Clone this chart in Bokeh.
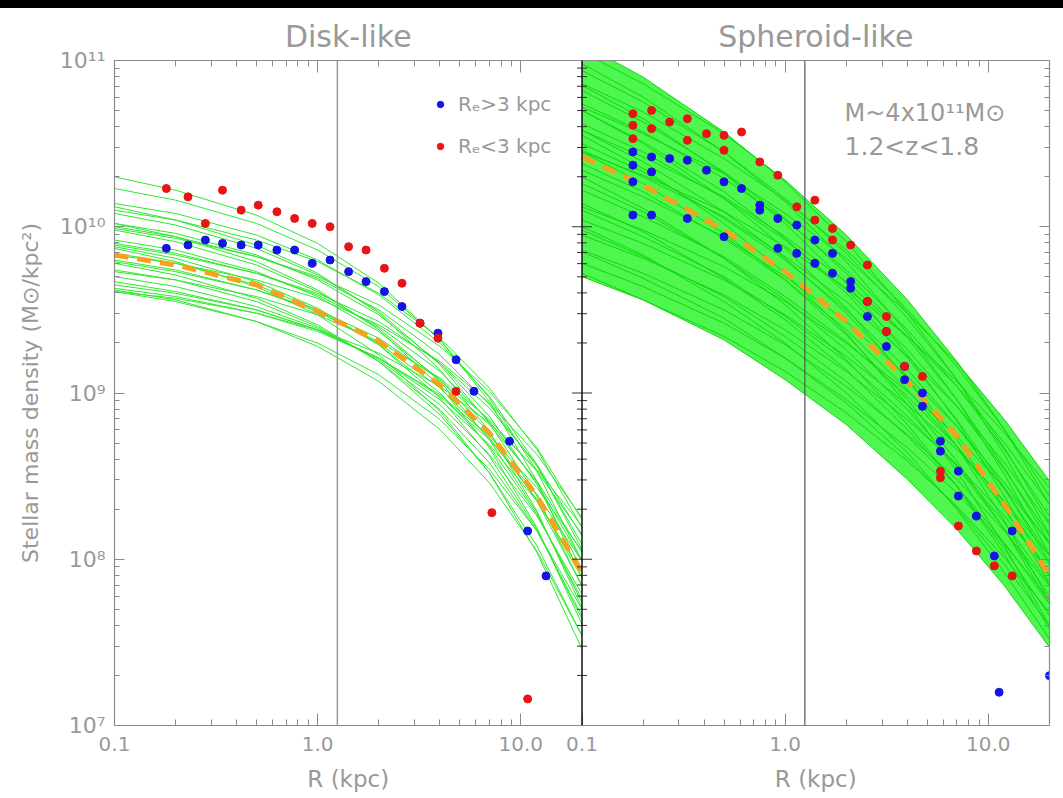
import numpy as np
from bokeh.plotting import figure
from bokeh.models import (LogAxis, FixedTicker, Span, Label, Legend, LegendItem,
                          Range1d, LogScale, Div)
from bokeh.layouts import column
from bokeh.embed import file_html
from bokeh.resources import INLINE

# ---------------- data ----------------
R_GRID = [0.1, 0.2, 0.5, 1, 2, 4, 7, 12, 20]          # kpc

# log10 stellar mass density of the model profiles, at R_GRID
DISK_CURVES = [
    [9.63, 9.58, 9.48, 9.37, 9.21, 8.99, 8.74, 8.43, 8.05],
    [9.73, 9.68, 9.58, 9.47, 9.31, 9.09, 8.84, 8.53, 8.15],
    [9.83, 9.78, 9.68, 9.57, 9.41, 9.19, 8.94, 8.63, 8.25],
    [9.67, 9.61, 9.50, 9.38, 9.21, 8.96, 8.69, 8.35, 7.92],
    [9.79, 9.73, 9.62, 9.50, 9.33, 9.08, 8.81, 8.47, 8.04],
    [9.89, 9.83, 9.72, 9.60, 9.43, 9.18, 8.91, 8.57, 8.14],
    [9.99, 9.93, 9.82, 9.70, 9.53, 9.28, 9.01, 8.67, 8.24],
    [9.70, 9.64, 9.52, 9.39, 9.20, 8.93, 8.63, 8.26, 7.79],
    [9.80, 9.74, 9.62, 9.49, 9.30, 9.03, 8.73, 8.36, 7.89],
    [9.90, 9.84, 9.72, 9.59, 9.40, 9.13, 8.83, 8.46, 7.99],
    [10.00, 9.94, 9.82, 9.69, 9.50, 9.23, 8.93, 8.56, 8.09],
    [10.10, 10.04, 9.92, 9.79, 9.60, 9.33, 9.03, 8.66, 8.19],
    [9.74, 9.68, 9.55, 9.40, 9.19, 8.90, 8.58, 8.17, 7.66],
    [9.84, 9.78, 9.65, 9.50, 9.29, 9.00, 8.68, 8.27, 7.76],
    [9.92, 9.86, 9.73, 9.58, 9.37, 9.08, 8.76, 8.35, 7.84],
    [10.02, 9.96, 9.83, 9.68, 9.47, 9.18, 8.86, 8.45, 7.94],
    [10.14, 10.08, 9.95, 9.80, 9.59, 9.30, 8.98, 8.57, 8.06],
    [9.78, 9.71, 9.57, 9.41, 9.19, 8.87, 8.52, 8.08, 7.54],
    [9.88, 9.81, 9.67, 9.51, 9.29, 8.97, 8.62, 8.18, 7.64],
    [9.98, 9.91, 9.77, 9.61, 9.39, 9.07, 8.72, 8.28, 7.74],
    [10.08, 10.01, 9.87, 9.71, 9.49, 9.17, 8.82, 8.38, 7.84],
    [10.23, 10.16, 10.02, 9.86, 9.64, 9.32, 8.97, 8.53, 7.99],
    [9.87, 9.79, 9.64, 9.47, 9.23, 8.89, 8.52, 8.04, 7.46],
    [10.02, 9.94, 9.79, 9.62, 9.38, 9.04, 8.67, 8.19, 7.61],
    [10.12, 10.04, 9.89, 9.72, 9.48, 9.14, 8.77, 8.29, 7.71],
    [10.30, 10.22, 10.07, 9.90, 9.66, 9.32, 8.95, 8.47, 7.89],
    [9.61, 9.57, 9.48, 9.38, 9.24, 9.04, 8.82, 8.54, 8.20],
    [9.65, 9.60, 9.50, 9.38, 9.21, 8.98, 8.72, 8.39, 7.99],
    [9.62, 9.56, 9.43, 9.28, 9.07, 8.78, 8.46, 8.05, 7.54],
    [9.61, 9.55, 9.43, 9.30, 9.11, 8.84, 8.54, 8.17, 7.70],
]
DISK_MEDIAN = [9.83, 9.77, 9.65, 9.49, 9.31, 9.05, 8.76, 8.38, 7.92]

SPH_CURVES = [
    [9.70, 9.56, 9.34, 9.13, 8.88, 8.59, 8.32, 8.01, 7.68],
    [9.78, 9.64, 9.42, 9.21, 8.96, 8.67, 8.40, 8.09, 7.76],
    [9.86, 9.72, 9.50, 9.29, 9.04, 8.75, 8.48, 8.17, 7.84],
    [9.95, 9.81, 9.59, 9.38, 9.13, 8.84, 8.57, 8.26, 7.93],
    [10.04, 9.90, 9.68, 9.47, 9.22, 8.93, 8.66, 8.35, 8.02],
    [10.12, 9.98, 9.76, 9.55, 9.30, 9.01, 8.74, 8.43, 8.10],
    [10.45, 10.31, 10.09, 9.88, 9.63, 9.34, 9.07, 8.76, 8.43],
    [9.72, 9.56, 9.32, 9.08, 8.81, 8.48, 8.18, 7.84, 7.47],
    [9.85, 9.69, 9.45, 9.21, 8.94, 8.61, 8.31, 7.97, 7.60],
    [9.98, 9.82, 9.58, 9.34, 9.07, 8.74, 8.44, 8.10, 7.73],
    [10.10, 9.94, 9.70, 9.46, 9.19, 8.86, 8.56, 8.22, 7.85],
    [10.22, 10.06, 9.82, 9.58, 9.31, 8.98, 8.68, 8.34, 7.97],
    [10.34, 10.18, 9.94, 9.70, 9.43, 9.10, 8.80, 8.46, 8.09],
    [10.46, 10.30, 10.06, 9.82, 9.55, 9.22, 8.92, 8.58, 8.21],
    [10.58, 10.42, 10.18, 9.94, 9.67, 9.34, 9.04, 8.70, 8.33],
    [10.72, 10.56, 10.32, 10.08, 9.81, 9.48, 9.18, 8.84, 8.47],
    [10.00, 9.83, 9.55, 9.30, 9.00, 8.64, 8.30, 7.92, 7.52],
    [10.14, 9.97, 9.69, 9.44, 9.14, 8.78, 8.44, 8.06, 7.66],
    [10.26, 10.09, 9.81, 9.56, 9.26, 8.90, 8.56, 8.18, 7.78],
    [10.38, 10.21, 9.93, 9.68, 9.38, 9.02, 8.68, 8.30, 7.90],
    [10.50, 10.33, 10.05, 9.80, 9.50, 9.14, 8.80, 8.42, 8.02],
    [10.62, 10.45, 10.17, 9.92, 9.62, 9.26, 8.92, 8.54, 8.14],
    [10.74, 10.57, 10.29, 10.04, 9.74, 9.38, 9.04, 8.66, 8.26],
    [10.86, 10.69, 10.41, 10.16, 9.86, 9.50, 9.16, 8.78, 8.38],
    [10.30, 10.11, 9.81, 9.53, 9.20, 8.81, 8.44, 8.03, 7.58],
    [10.45, 10.26, 9.96, 9.68, 9.35, 8.96, 8.59, 8.18, 7.73],
    [10.58, 10.39, 10.09, 9.81, 9.48, 9.09, 8.72, 8.31, 7.86],
    [10.70, 10.51, 10.21, 9.93, 9.60, 9.21, 8.84, 8.43, 7.98],
    [10.82, 10.63, 10.33, 10.05, 9.72, 9.33, 8.96, 8.55, 8.10],
    [10.94, 10.75, 10.45, 10.17, 9.84, 9.45, 9.08, 8.67, 8.22],
    [11.05, 10.86, 10.56, 10.28, 9.95, 9.56, 9.19, 8.78, 8.33],
    [10.55, 10.35, 10.02, 9.72, 9.36, 8.93, 8.53, 8.08, 7.60],
    [10.70, 10.50, 10.17, 9.87, 9.51, 9.08, 8.68, 8.23, 7.75],
    [10.85, 10.65, 10.32, 10.02, 9.66, 9.23, 8.83, 8.38, 7.90],
    [10.98, 10.78, 10.45, 10.15, 9.79, 9.36, 8.96, 8.51, 8.03],
    [11.10, 10.90, 10.57, 10.27, 9.91, 9.48, 9.08, 8.63, 8.15],
]
SPH_MEDIAN = [10.42, 10.25, 9.98, 9.73, 9.43, 9.07, 8.74, 8.33, 7.90]

# observed profiles (R in kpc, log10 density)
DISK_BLUE_R = [0.18, 0.23, 0.28, 0.34, 0.42, 0.51, 0.63, 0.77, 0.94, 1.15, 1.42,
               1.73, 2.13, 2.60, 3.19, 3.91, 4.80, 5.88, 8.8, 10.8, 13.3]
DISK_BLUE_L = [9.87, 9.89, 9.92, 9.90, 9.89, 9.89, 9.86, 9.86, 9.78, 9.80, 9.73,
               9.67, 9.61, 9.52, 9.42, 9.36, 9.20, 9.01, 8.71, 8.17, 7.90]
DISK_RED_R = [0.18, 0.23, 0.28, 0.34, 0.42, 0.51, 0.63, 0.77, 0.94, 1.15, 1.42,
              1.73, 2.13, 2.60, 3.19, 3.91, 4.80, 7.2, 10.8]
DISK_RED_L = [10.23, 10.18, 10.02, 10.22, 10.10, 10.13, 10.09, 10.05, 10.02, 10.00, 9.88,
              9.86, 9.75, 9.66, 9.42, 9.33, 9.01, 8.28, 7.16]

SPH_BLUE_R = [0.178, 0.178, 0.178, 0.178, 0.22, 0.22, 0.22, 0.27, 0.33, 0.33, 0.41,
              0.50, 0.50, 0.61, 0.75, 0.75, 0.92, 0.92, 1.14, 1.14, 1.40, 1.40,
              1.71, 1.71, 2.10, 2.10, 2.54, 2.54, 3.15, 3.15, 3.87, 3.87, 4.74, 4.74,
              5.81, 5.81, 7.12, 7.12, 8.73, 10.7, 13.1, 11.3, 20.0]
SPH_BLUE_L = [10.45, 10.37, 10.27, 10.07, 10.42, 10.33, 10.07, 10.41, 10.40, 10.05, 10.34,
              10.27, 9.94, 10.23, 10.13, 10.10, 10.05, 9.87, 10.01, 9.84, 9.92, 9.78,
              9.84, 9.72, 9.67, 9.63, 9.55, 9.46, 9.37, 9.28, 9.16, 9.08, 9.00, 8.92,
              8.71, 8.65, 8.53, 8.38, 8.26, 8.02, 8.17, 7.20, 7.30]
SPH_RED_R = [0.178, 0.178, 0.178, 0.22, 0.22, 0.27, 0.33, 0.33, 0.41, 0.50, 0.50,
             0.61, 0.75, 0.92, 1.14, 1.40, 1.40, 1.71, 1.71, 2.10, 2.54, 2.54,
             3.15, 3.15, 3.87, 4.74, 5.81, 5.81, 7.12, 8.73, 10.7, 13.1]
SPH_RED_L = [10.68, 10.61, 10.53, 10.70, 10.59, 10.63, 10.65, 10.52, 10.56, 10.55, 10.46,
             10.57, 10.39, 10.31, 10.12, 10.16, 10.04, 9.99, 9.92, 9.89, 9.77, 9.55,
             9.46, 9.37, 9.16, 9.10, 8.53, 8.49, 8.20, 8.05, 7.96, 7.90]

R_MARK = 1.25          # vertical reference line (kpc)
R_MIN, R_MAX = 0.1, 20.0
X_TICKS = [0.1, 1.0, 10.0]
X_TICK_LABELS = ["0.1", "1.0", "10.0"]
Y_TICKS = [1e7, 1e8, 1e9, 1e10, 1e11]
Y_TICK_LABELS = ["10⁷", "10⁸", "10⁹", "10¹⁰", "10¹¹"]
PANEL_TITLES = ["Disk-like", "Spheroid-like"]
X_TITLE = "R (kpc)"
Y_TITLE = "Stellar mass density (M\u2299/kpc\u00b2)"

# ---------------- styling ----------------
AXIS_GRAY = "#8a8a8a"
TEXT_GRAY = "#999999"
FONT = "DejaVu Sans"
GREEN = "#2fe82f"
ORANGE = "#f7a11e"
BLUE = "#1414e6"
RED = "#e81414"
FRAME_W, FRAME_H = 935, 665

SHIFT = R_MAX / R_MIN   # right panel R maps to R*SHIFT on the shared axes

p = figure(frame_width=FRAME_W, frame_height=FRAME_H,
           x_axis_type="log", y_axis_type="log",
           x_range=Range1d(R_MIN, R_MIN * SHIFT * SHIFT),
           y_range=Range1d(Y_TICKS[0], Y_TICKS[-1]),
           min_border_left=114, min_border_right=14,
           min_border_top=52, min_border_bottom=73,
           output_backend="svg", toolbar_location=None,
           outline_line_color=None, background_fill_color="white")
p.extra_x_ranges = {"right": Range1d(R_MIN / SHIFT, R_MAX)}
p.extra_x_scales = {"right": LogScale()}
p.grid.visible = False

# x ticks for both panels on one shared axis
x_major = X_TICKS + [t * SHIFT for t in X_TICKS]
x_minor_base = [k * 10.0 ** e for e in (-1, 0) for k in range(2, 10)]
x_minor = x_minor_base + [t * SHIFT for t in x_minor_base]
x_over = {}
for t, lab in zip(X_TICKS, X_TICK_LABELS):
    x_over[t] = lab
    x_over[t * SHIFT] = lab
xticker = FixedTicker(ticks=x_major, minor_ticks=x_minor)

y_minor = [k * 10.0 ** e for e in range(7, 11) for k in range(2, 10)]
yticker = FixedTicker(ticks=Y_TICKS, minor_ticks=y_minor)

mid = (R_MIN * R_MAX) ** 0.5          # centre of each panel
centres = [mid, mid * SHIFT]
centre_ticker = FixedTicker(ticks=centres, minor_ticks=[])


def style_axis(ax, major_in, minor_in):
    ax.axis_line_color = AXIS_GRAY
    ax.axis_line_width = 1.2
    ax.major_tick_line_color = AXIS_GRAY
    ax.minor_tick_line_color = AXIS_GRAY
    ax.major_tick_in = major_in
    ax.major_tick_out = 0
    ax.minor_tick_in = minor_in
    ax.minor_tick_out = 0
    ax.major_label_text_color = TEXT_GRAY
    ax.major_label_text_font = FONT
    ax.axis_label_text_color = TEXT_GRAY
    ax.axis_label_text_font = FONT
    ax.axis_label_text_font_style = "normal"


def text_axis(labels, size, standoff):
    """An axis with no line or ticks: it only carries a text under each panel centre."""
    ax = LogAxis(ticker=centre_ticker,
                 major_label_overrides=dict(zip(centres, labels)),
                 axis_line_color=None, major_tick_line_color=None,
                 minor_tick_line_color=None, major_tick_in=0, major_tick_out=0,
                 minor_tick_in=0, minor_tick_out=0,
                 major_label_standoff=standoff, major_label_text_font=FONT,
                 major_label_text_font_size=size, major_label_text_color=TEXT_GRAY)
    return ax


bx = p.xaxis[0]
bx.ticker = xticker
bx.major_label_overrides = x_over
bx.major_label_text_font_size = "20px"
bx.major_label_standoff = 11
style_axis(bx, 12, 6)

ly = p.yaxis[0]
ly.ticker = yticker
ly.major_label_overrides = dict(zip(Y_TICKS, Y_TICK_LABELS))
ly.major_label_text_font_size = "22px"
ly.major_label_standoff = 9
ly.axis_label = Y_TITLE
ly.axis_label_text_font_size = "22px"
ly.axis_label_standoff = 14
style_axis(ly, 10, 5)

top = LogAxis(ticker=xticker, major_label_overrides={t: "" for t in x_major},
              major_label_standoff=0)
style_axis(top, 12, 6)
top.major_label_text_font_size = "1px"
p.add_layout(top, "above")
p.add_layout(text_axis(PANEL_TITLES, "30px", 7), "above")

p.add_layout(text_axis([X_TITLE, X_TITLE], "23px", 12), "below")

ry = LogAxis(ticker=yticker, major_label_overrides={t: "" for t in Y_TICKS},
             major_label_standoff=0)
style_axis(ry, 10, 5)
ry.major_label_text_font_size = "1px"
p.add_layout(ry, "right")

# ---------------- left panel: disk-like ----------------
p.multi_line(xs=[R_GRID] * len(DISK_CURVES),
             ys=[list(10.0 ** np.array(c)) for c in DISK_CURVES],
             line_color=GREEN, line_width=1)
p.line(R_GRID, 10.0 ** np.array(DISK_MEDIAN), line_color=ORANGE, line_width=5,
       line_dash="14 9")
rb = p.scatter(DISK_BLUE_R, 10.0 ** np.array(DISK_BLUE_L), size=8,
               fill_color=BLUE, line_color=BLUE)
rr = p.scatter(DISK_RED_R, 10.0 ** np.array(DISK_RED_L), size=8,
               fill_color=RED, line_color=RED)

# ---------------- right panel: spheroid-like ----------------
sph = 10.0 ** np.array(SPH_CURVES)
p.varea(x=R_GRID, y1=sph.min(axis=0), y2=sph.max(axis=0), fill_color="#3cf53c",
        fill_alpha=0.9, x_range_name="right")
p.multi_line(xs=[R_GRID] * len(SPH_CURVES), ys=[list(c) for c in sph],
             line_color="#10d810", line_width=1, x_range_name="right")
p.line(R_GRID, 10.0 ** np.array(SPH_MEDIAN), line_color=ORANGE, line_width=5,
       line_dash="14 9", x_range_name="right")
p.scatter(SPH_BLUE_R, 10.0 ** np.array(SPH_BLUE_L), size=8,
          fill_color=BLUE, line_color=BLUE, x_range_name="right")
p.scatter(SPH_RED_R, 10.0 ** np.array(SPH_RED_L), size=8,
          fill_color=RED, line_color=RED, x_range_name="right")

# reference lines
p.add_layout(Span(location=R_MARK, dimension="height", line_color="#9a9a9a",
                  line_width=1.5))
p.add_layout(Span(location=R_MARK, dimension="height", line_color="#555555",
                  line_width=1.2, x_range_name="right"))
p.add_layout(Span(location=R_MAX, dimension="height", line_color="#111111",
                  line_width=1.5))
# ticks on the shared middle boundary (both sides)
p.dash(x=[R_MAX] * len(Y_TICKS), y=Y_TICKS, size=20, line_color="#333333",
       line_width=1)
p.dash(x=[R_MAX] * len(y_minor), y=y_minor, size=10, line_color="#333333",
       line_width=1)

# legend
leg = Legend(items=[LegendItem(label="R\u2091>3 kpc", renderers=[rb]),
                    LegendItem(label="R\u2091<3 kpc", renderers=[rr])],
             location=(318, 567), glyph_width=16, glyph_height=20,
             label_height=20, spacing=18, padding=0, margin=0,
             label_standoff=10, label_text_font=FONT, label_text_font_size="20px",
             label_text_color=TEXT_GRAY, border_line_alpha=0, background_fill_alpha=0)
p.add_layout(leg)

p.add_layout(Label(x=1.96, y=10 ** (11 - 52 / 166), text="M~4x10¹¹M\u2299",
                   x_range_name="right", text_align="left", text_baseline="middle",
                   text_font=FONT, text_font_size="24px", text_color=TEXT_GRAY))
p.add_layout(Label(x=1.96, y=10 ** (11 - 86 / 166), text="1.2<z<1.8",
                   x_range_name="right", text_align="left", text_baseline="middle",
                   text_font=FONT, text_font_size="25px", text_color=TEXT_GRAY))

bar = Div(width=1063, height=8, margin=(0, 0, 0, 0),
          styles={"background-color": "black"})
layout = column(bar, p, spacing=0)

open("out.html", "w").write(file_html(layout, INLINE))
